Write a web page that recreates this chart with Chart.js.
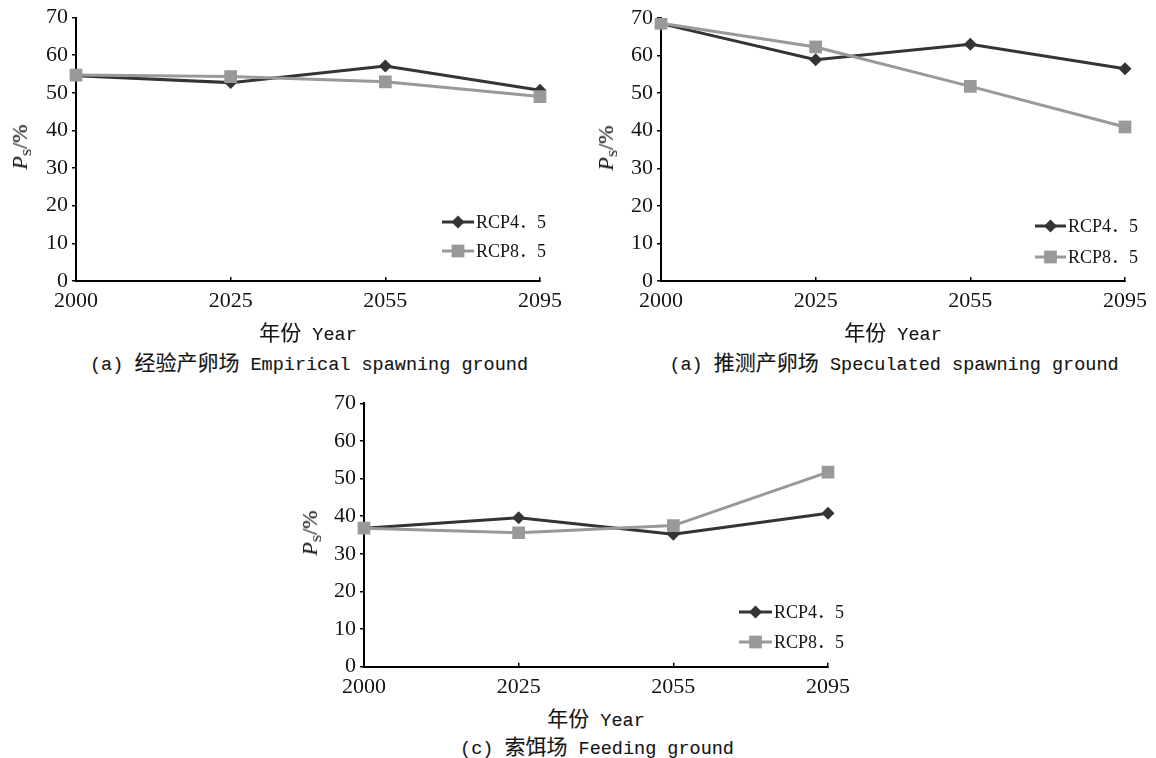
<!DOCTYPE html>
<html>
<head>
<meta charset="utf-8">
<script src="https://cdn.jsdelivr.net/npm/chart.js@4/dist/chart.umd.min.js"></script>
<style>
  html, body { margin: 0; padding: 0; background: #fff; }
  body { width: 1156px; height: 758px; position: relative; overflow: hidden; }
  canvas { position: absolute; }
  .txt { position: absolute; white-space: nowrap; color: #141414; transform: translate(-50%, -50%);
         -webkit-text-stroke: 0.12px #141414; }
  .cap { font-family: "Liberation Mono", "Noto Sans CJK SC", monospace; font-size: 18.5px; }
  .cap .cn { font-family: "Noto Sans CJK SC", sans-serif; font-size: 21px; }
  .ytitle { font-family: "Liberation Serif", serif; font-size: 22px; transform: translate(-50%, -50%) rotate(-90deg); }
  .ytitle sub { font-size: 13px; font-style: normal; vertical-align: -4px; }
</style>
</head>
<body>
<canvas id="c1" width="578" height="320" style="left:0px;top:0px;width:578px;height:320px"></canvas>
<canvas id="c2" width="578" height="320" style="left:578px;top:0px;width:578px;height:320px"></canvas>
<canvas id="c3" width="600" height="320" style="left:280px;top:380px;width:600px;height:320px"></canvas>

<div class="txt ytitle" style="left:21px;top:147px"><i>P</i><sub>S</sub>/%</div>
<div class="txt ytitle" style="left:607px;top:148px"><i>P</i><sub>S</sub>/%</div>
<div class="txt ytitle" style="left:311px;top:533px"><i>P</i><sub>S</sub>/%</div>

<div class="txt cap" style="left:308px;top:331px"><span class="cn">年份</span> Year</div>
<div class="txt cap" style="left:893px;top:331px"><span class="cn">年份</span> Year</div>
<div class="txt cap" style="left:596px;top:717px"><span class="cn">年份</span> Year</div>

<div class="txt cap" style="left:309px;top:361px">(a) <span class="cn">经验产卵场</span> Empirical spawning ground</div>
<div class="txt cap" style="left:894px;top:361px">(a) <span class="cn">推测产卵场</span> Speculated spawning ground</div>
<div class="txt cap" style="left:597px;top:745px">(c) <span class="cn">索饵场</span> Feeding ground</div>

<script>
// Years on the horizontal axis
const years = ['2000', '2025', '2055', '2095'];
const seriesNames = ['RCP4．5', 'RCP8．5'];

// Ps (%) for the empirical spawning ground
const empiricalRcp45 = [54.5, 52.7, 57.1, 50.7];
const empiricalRcp85 = [54.7, 54.3, 52.9, 49.0];

// Ps (%) for the speculated spawning ground
const speculatedRcp45 = [68.5, 58.9, 63.0, 56.5];
const speculatedRcp85 = [68.6, 62.3, 51.8, 41.0];

// Ps (%) for the feeding ground
const feedingRcp45 = [36.8, 39.6, 35.2, 40.8];
const feedingRcp85 = [36.8, 35.6, 37.5, 51.7];

// Value axis ticks
const yMin = 0, yMax = 70, yStep = 10;

const DARK = '#343434';
const LIGHT = '#999999';
const INK = '#141414';

function markerPath(ctx, style, x, y, r) {
  ctx.beginPath();
  if (style === 'rectRot') {
    ctx.moveTo(x - r, y); ctx.lineTo(x, y - r); ctx.lineTo(x + r, y); ctx.lineTo(x, y + r);
  } else {
    const s = Math.SQRT1_2 * r;
    ctx.rect(x - s, y - s, 2 * s, 2 * s);
  }
  ctx.closePath();
}

// Excel-like legend: a short line with the marker in the middle, then the label
const lineLegend = {
  id: 'lineLegend',
  afterDraw(chart, args, opts) {
    const ctx = chart.ctx;
    ctx.save();
    chart.data.datasets.forEach((ds, i) => {
      const y = opts.y + i * opts.gap;
      ctx.strokeStyle = ds.borderColor;
      ctx.lineWidth = ds.borderWidth;
      ctx.beginPath();
      ctx.moveTo(opts.x, y);
      ctx.lineTo(opts.x + opts.len, y);
      ctx.stroke();
      ctx.fillStyle = ds.pointBackgroundColor;
      markerPath(ctx, ds.pointStyle, opts.x + opts.len / 2, y, ds.pointRadius);
      ctx.fill();
      ctx.fillStyle = INK;
      ctx.font = '18px "Liberation Serif", "Noto Sans CJK SC", serif';
      ctx.textBaseline = 'middle';
      ctx.textAlign = 'left';
      ctx.fillText(ds.label, opts.x + opts.len + 2, y + 1);
    });
    ctx.restore();
  }
};

function makeChart(id, rcp45, rcp85, geo) {
  const datasets = [
    {
      label: seriesNames[0], data: rcp45, order: 1,
      borderColor: DARK, backgroundColor: DARK, borderWidth: 3,
      pointStyle: 'rectRot', pointRadius: 6.5, pointBackgroundColor: DARK, pointBorderColor: DARK,
      pointBorderWidth: 0, tension: 0
    },
    {
      label: seriesNames[1], data: rcp85, order: 0,
      borderColor: LIGHT, backgroundColor: LIGHT, borderWidth: 3,
      pointStyle: 'rect', pointRadius: 9, pointBackgroundColor: LIGHT, pointBorderColor: LIGHT,
      pointBorderWidth: 0, tension: 0
    }
  ];
  return new Chart(document.getElementById(id), {
    type: 'line',
    data: { labels: years, datasets },
    plugins: [lineLegend],
    options: {
      responsive: false,
      animation: false,
      layout: { padding: { left: 0, top: geo.top, right: geo.right, bottom: 0 } },
      plugins: {
        legend: { display: false },
        tooltip: { enabled: false },
        lineLegend: geo.legend
      },
      scales: {
        x: {
          type: 'category',
          offset: false,
          border: { display: true, color: '#000', width: 2 },
          grid: { display: true, drawOnChartArea: false, drawTicks: true, tickLength: -4, color: '#000', lineWidth: 1.5 },
          ticks: { color: INK, padding: 11, maxRotation: 0, autoSkip: false,
                   font: { family: '"Liberation Serif", serif', size: 22 } },
          afterFit(scale) { scale.height = geo.xh; scale.paddingLeft = 0; scale.paddingRight = 0; }
        },
        y: {
          min: yMin, max: yMax,
          border: { display: true, color: '#000', width: 2 },
          grid: { display: true, drawOnChartArea: false, drawTicks: true, tickLength: 4, color: '#000', lineWidth: 1.5 },
          ticks: { stepSize: yStep, color: INK, padding: 4,
                   font: { family: '"Liberation Serif", serif', size: 22 } },
          afterFit(scale) { scale.width = geo.yw; scale.paddingTop = 0; scale.paddingBottom = 0; }
        }
      }
    }
  });
}

makeChart('c1', empiricalRcp45, empiricalRcp85,
  { top: 17.5, right: 38, yw: 76, xh: 39, legend: { x: 442, y: 222, gap: 29, len: 32 } });
makeChart('c2', speculatedRcp45, speculatedRcp85,
  { top: 18, right: 31, yw: 83, xh: 39, legend: { x: 457, y: 226, gap: 31, len: 31 } });
makeChart('c3', feedingRcp45, feedingRcp85,
  { top: 23.3, right: 52, yw: 84, xh: 33.3, legend: { x: 459, y: 232, gap: 30, len: 33 } });
</script>
</body>
</html>
